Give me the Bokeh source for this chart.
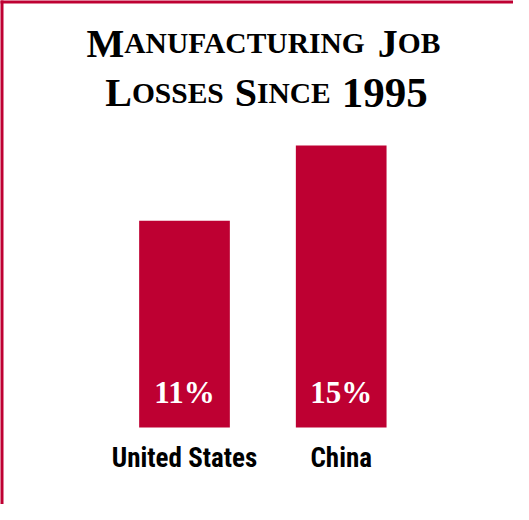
from bokeh.plotting import figure
from bokeh.models import Range1d, ColumnDataSource
from bokeh.core.properties import value
from bokeh.embed import file_html
from bokeh.resources import INLINE

# ---- data ----
countries = ["United States", "China"]
losses = [11, 15]
value_labels = ["11%", "15%"]
title_lines = ["Manufacturing Job", "Losses Since 1995"]

W, H = 513, 504          # figure size; it sits at page offset (8, 8)
OFF = 8.0
RED = "#BE0032"

# screen-pixel <-> data mapping (frame covers whole canvas)
ux = 156.7                       # px per category step
x0 = -(192.0 - OFF) / ux         # category 0 centred at screen x=192
x1 = x0 + W / ux
uy = 18.8                        # px per percentage point
y0 = -(OFF + H - 435.0) / uy     # baseline at screen y=435
y1 = y0 + H / uy

BASE_FIX = 0.36   # empirical alphabetic-baseline correction (em)


def X(sx):
    return x0 + (sx - OFF) / ux


def Y(sy):
    return y1 - (sy - OFF) / uy


def YB(sy, size):
    return Y(sy - BASE_FIX * size)


p = figure(width=W, height=H, x_range=Range1d(x0, x1), y_range=Range1d(y0, y1),
           output_backend="svg", toolbar_location=None, min_border=0,
           x_axis_location=None, y_axis_location=None, title=None,
           outline_line_color=None, background_fill_color="white",
           border_fill_color="white")
p.grid.visible = False

# frame border (top and left edges visible)
p.quad(left=[X(6), X(6)], right=[X(560), X(11)],
       top=[Y(6), Y(6)], bottom=[Y(11), Y(560)],
       color=RED, line_color=None)

# bars
idx = list(range(len(countries)))
p.vbar(x=idx, top=losses, bottom=0, width=90.7 / ux, color=RED, line_color=None)

# value labels
VS = 31.0
p.text(x=idx, y=[YB(411.5, VS)] * len(idx), text=value_labels,
       text_font=value("Liberation Serif"), text_font_style="bold",
       text_font_size="%dpx" % VS, text_color="white",
       text_align="center", text_baseline="alphabetic")

# category labels
CS = 27.0
p.text(x=idx, y=[YB(475, CS)] * len(idx), text=countries,
       text_font=value("'Roboto Condensed', 'Liberation Sans Narrow', 'Arial Narrow', 'Nimbus Sans Narrow', Roboto, sans-serif"),
       text_font_style="bold", text_font_size="%dpx" % CS, text_color="#000000",
       text_align="center", text_baseline="alphabetic")

# title in small caps (segments laid out with Times-Bold metrics)
TB = {'A': 722, 'B': 667, 'C': 722, 'D': 722, 'E': 667, 'F': 611, 'G': 778, 'H': 778,
      'I': 389, 'J': 500, 'K': 778, 'L': 667, 'M': 944, 'N': 722, 'O': 778, 'P': 611,
      'Q': 778, 'R': 722, 'S': 556, 'T': 667, 'U': 722, 'V': 722, 'W': 1000, 'X': 722,
      'Y': 722, 'Z': 667}
BIG, SMALL, DIG = 40.0, 29.5, 43.0
SPACE = 11.0
baselines = [65.0, 114.5]
centers = [271.0, 274.0]

tx, ty, tt, ts = [], [], [], []
for line, base, center in zip(title_lines, baselines, centers):
    segs = []  # (text, size)
    for ch in line:
        if ch == " ":
            segs.append((" ", None))
            continue
        if ch.isdigit():
            kind = DIG
        elif ch.isupper():
            kind = BIG
        else:
            kind = SMALL
        if segs and segs[-1][1] == kind:
            segs[-1] = (segs[-1][0] + ch.upper(), kind)
        else:
            segs.append((ch.upper(), kind))
    widths = []
    for t, s in segs:
        if s is None:
            widths.append(SPACE)
        else:
            widths.append(sum(TB.get(c, 500) for c in t) / 1000.0 * s)
    x = center - sum(widths) / 2.0
    for (t, s), w in zip(segs, widths):
        if s is not None:
            tx.append(X(x))
            ty.append(YB(base, BIG))
            tt.append(t)
            ts.append("%.1fpx" % s)
        x += w

tsrc = ColumnDataSource(dict(x=tx, y=ty, text=tt, size=ts))
p.text(x="x", y="y", text="text", source=tsrc, text_font_size="size",
       text_font=value("Liberation Serif"), text_font_style="bold",
       text_color="#000000", text_align="left", text_baseline="alphabetic")

open("out.html", "w").write(file_html(p, INLINE))
